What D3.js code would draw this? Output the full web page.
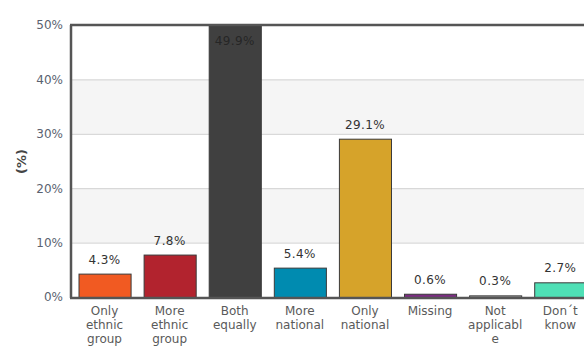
<!DOCTYPE html>
<html>
<head>
<meta charset="utf-8">
<script src="https://cdn.jsdelivr.net/npm/d3@7/dist/d3.min.js"></script>
<style>
  html, body { margin: 0; padding: 0; background: #fff; }
  svg { display: block; font-family: "DejaVu Sans", Verdana, sans-serif; }
</style>
</head>
<body>
<svg id="chart" width="584" height="350"></svg>
<script>
// Identity preference: share of respondents per answer
const categories = [
  ["Only", "ethnic", "group"],
  ["More", "ethnic", "group"],
  ["Both", "equally"],
  ["More", "national"],
  ["Only", "national"],
  ["Missing"],
  ["Not", "applicabl", "e"],
  ["Don\u00b4t", "know"]
];
const values = [4.3, 7.8, 49.9, 5.4, 29.1, 0.6, 0.3, 2.7];
const colors = ["#F15A22", "#B2232E", "#404040", "#008BB0", "#D6A32A", "#7B2C82", "#A0A0A0", "#4FE0B6"];
const yTicks = [0, 10, 20, 30, 40, 50];
const yTitle = "(%)";

const svg = d3.select("#chart");
const plotLeft = 71, plotTop = 25, plotBottom = 297;

const x = d3.scaleBand()
  .domain(d3.range(categories.length))
  .range([plotLeft + 1, plotLeft + 1 + categories.length * 65.1])
  .paddingInner(0.2)
  .paddingOuter(0.1);

const y = d3.scaleLinear().domain([0, 50]).range([plotBottom, plotTop]);
const plotRight = x.range()[1];

// Alternating horizontal bands
const bands = d3.range(0, 50, 10);
svg.append("g").selectAll("rect").data(bands).join("rect")
  .attr("x", plotLeft)
  .attr("y", d => y(d + 10))
  .attr("width", plotRight - plotLeft)
  .attr("height", d => y(d) - y(d + 10))
  .attr("fill", (d, i) => i % 2 === 1 ? "#f5f5f5" : "#ffffff");

// Grid lines
svg.append("g").selectAll("line").data(yTicks.slice(1, -1)).join("line")
  .attr("x1", plotLeft).attr("x2", plotRight)
  .attr("y1", d => y(d) + 0.5).attr("y2", d => y(d) + 0.5)
  .attr("stroke", "#d0d0d0").attr("stroke-width", 1);

// Bars
svg.append("g").selectAll("rect").data(values).join("rect")
  .attr("x", (d, i) => x(i) + 0.5)
  .attr("y", d => y(d) + 0.5)
  .attr("width", x.bandwidth())
  .attr("height", d => y(0) - y(d))
  .attr("fill", (d, i) => colors[i])
  .attr("stroke", "#3a3a3a")
  .attr("stroke-width", 1);

// Value labels
svg.append("g").selectAll("text").data(values).join("text")
  .attr("x", (d, i) => x(i) + x.bandwidth() / 2)
  .attr("y", d => d > 45 ? y(d) + 19.5 : y(d) - 10)
  .attr("text-anchor", "middle")
  .attr("font-size", 12)
  .attr("letter-spacing", 0.4)
  .attr("fill", d => d > 45 ? "#262626" : "#333")
  .text(d => d.toFixed(1) + "%");

// Frame: left, top, bottom
const frame = svg.append("g").attr("stroke", "#555").attr("stroke-width", 2.5).attr("fill", "none");
frame.append("line").attr("x1", plotLeft).attr("x2", plotLeft).attr("y1", plotTop).attr("y2", plotBottom + 1);
frame.append("line").attr("x1", plotLeft - 1).attr("x2", plotRight).attr("y1", plotTop).attr("y2", plotTop);
frame.append("line").attr("x1", plotLeft - 1).attr("x2", plotRight).attr("y1", plotBottom + 1).attr("y2", plotBottom + 1);

// Y axis tick labels
const yAxis = d3.axisLeft(y).tickValues(yTicks).tickSize(0).tickPadding(7).tickFormat(d => d + "%");
const ya = svg.append("g").attr("transform", `translate(${plotLeft - 1},0)`).call(yAxis);
ya.select(".domain").remove();
ya.selectAll("text")
  .attr("font-family", "DejaVu Sans, Verdana, sans-serif")
  .attr("font-size", 12)
  .attr("fill", "#5a6270");

// Y axis title
svg.append("text")
  .attr("transform", "translate(25.5,161.5) rotate(-90)")
  .attr("text-anchor", "middle")
  .attr("font-size", 13)
  .attr("font-weight", "bold")
  .attr("fill", "#444")
  .text(yTitle);

// Category labels
const xl = svg.append("g").selectAll("text").data(categories).join("text")
  .attr("x", (d, i) => x(i) + x.bandwidth() / 2)
  .attr("y", plotBottom + 17.5)
  .attr("text-anchor", "middle")
  .attr("font-size", 12)
  .attr("fill", "#5a5a5a");
xl.selectAll("tspan").data(d => d).join("tspan")
  .attr("x", function() { return this.parentNode.getAttribute("x"); })
  .attr("dy", (d, i) => i === 0 ? 0 : 14.2)
  .text(d => d);
</script>
</body>
</html>
